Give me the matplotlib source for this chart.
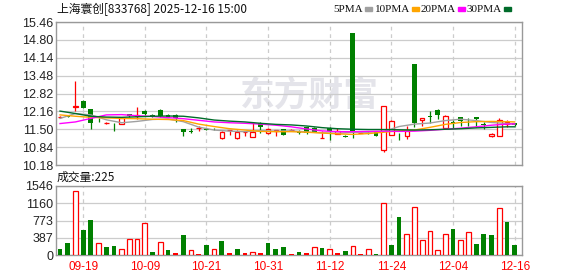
import numpy as np
import matplotlib.pyplot as plt
from matplotlib.patches import Rectangle

# ---- data ----
dates = ["09-16", "09-17", "09-18", "09-19", "09-22", "09-23", "09-24", "09-25", "09-26", "09-29", "09-30",
         "10-09", "10-10", "10-13", "10-14", "10-15", "10-16", "10-17", "10-20", "10-21", "10-22", "10-23",
         "10-24", "10-27", "10-28", "10-29", "10-30", "10-31",
         "11-03", "11-04", "11-05", "11-06", "11-07", "11-10", "11-11", "11-12", "11-13", "11-14", "11-17",
         "11-18", "11-19", "11-20", "11-21", "11-24", "11-25", "11-26", "11-27", "11-28",
         "12-01", "12-02", "12-03", "12-04", "12-05", "12-08", "12-09", "12-10", "12-11", "12-12", "12-15", "12-16"]

opens = [11.95, 12.02, 12.31, 12.56, 12.23, 11.92, 11.74, 11.71, 11.69, 12.05,
         12.00, 12.19, 12.04, 12.22, 12.03, 12.03, 11.50, 11.42, 11.53, 11.52,
         11.52, 11.16, 11.46, 11.16, 11.40, 11.21, 11.74, 11.35, 11.44, 11.50,
         11.49, 11.45, 11.58, 11.55, 11.18, 11.55, 11.34, 11.26, 15.05, 11.38,
         11.42, 11.43, 10.75, 11.29, 11.26, 11.25, 13.91, 11.83, 12.00, 12.22,
         11.55, 11.75, 11.95, 11.92, 11.96, 11.70, 11.24, 11.26, 11.70, 11.73]
highs = [11.99, 12.04, 13.28, 12.58, 12.25, 11.93, 11.78, 11.72, 11.91, 12.07,
         12.31, 12.20, 12.05, 12.23, 12.05, 12.05, 11.51, 11.53, 11.62, 11.53,
         11.53, 11.42, 11.48, 11.48, 11.42, 11.74, 11.76, 11.53, 11.47, 11.51,
         11.50, 11.46, 11.59, 11.57, 11.43, 11.58, 11.54, 11.27, 15.05, 11.40,
         11.43, 11.44, 12.36, 11.84, 11.36, 11.62, 13.91, 11.93, 12.17, 12.23,
         12.02, 11.85, 11.97, 11.93, 11.97, 11.78, 11.36, 11.90, 11.86, 11.74]
lows = [11.92, 11.95, 12.18, 12.27, 11.50, 11.77, 11.70, 11.43, 11.68, 11.97,
        11.88, 12.04, 11.96, 11.97, 11.95, 11.78, 11.25, 11.36, 11.45, 11.48,
        11.49, 11.15, 11.29, 11.15, 11.24, 11.20, 11.38, 11.34, 11.25, 11.29,
        11.48, 11.34, 11.34, 11.39, 11.16, 11.10, 11.32, 11.20, 11.17, 11.36,
        11.33, 11.25, 10.67, 11.27, 11.10, 11.14, 11.60, 11.62, 11.72, 11.87,
        11.54, 11.56, 11.62, 11.62, 11.59, 11.52, 11.22, 11.24, 11.57, 11.62]
closes = [11.95, 11.97, 12.35, 12.28, 11.72, 11.90, 11.74, 11.69, 11.90, 11.98,
          12.03, 12.05, 11.97, 11.98, 11.96, 11.92, 11.41, 11.40, 11.53, 11.49,
          11.50, 11.41, 11.47, 11.41, 11.41, 11.41, 11.59, 11.50, 11.46, 11.30,
          11.49, 11.36, 11.35, 11.40, 11.19, 11.42, 11.42, 11.22, 11.38, 11.38,
          11.39, 11.26, 12.35, 11.82, 11.24, 11.42, 11.72, 11.91, 11.97, 12.01,
          12.00, 11.72, 11.80, 11.90, 11.87, 11.64, 11.34, 11.85, 11.75, 11.64]

volumes = [134, 269, 1434, 568, 784, 261, 179, 202, 127, 358,
           358, 710, 67, 284, 112, 45, 448, 105, 22, 224,
           134, 314, 45, 134, 45, 60, 45, 269, 134, 179,
           22, 67, 45, 172, 157, 127, 45, 90, 194, 22,
           127, 22, 1158, 224, 852, 463, 1068, 336, 530, 105,
           463, 583, 336, 508, 246, 471, 448, 1046, 740, 225]
# day change vs previous close: u = up, d = down, f = flat
vol_dir = ["d", "d", "u", "d", "d", "u", "d", "d", "u", "u",
           "u", "u", "d", "u", "d", "f", "d", "u", "f", "d",
           "u", "d", "f", "d", "f", "u", "f", "d", "d", "d",
           "f", "d", "f", "u", "d", "u", "f", "d", "u", "f",
           "u", "d", "u", "d", "d", "u", "u", "u", "u", "u",
           "u", "d", "u", "u", "d", "d", "d", "u", "d", "d"]

ma_days = [0, 2, 4, 6, 8, 10, 12, 14, 16, 18, 20, 22, 24, 26, 28, 30,
           32, 34, 36, 38, 40, 42, 44, 46, 48, 50, 52, 54, 56, 58, 59]
ma5 = [11.90, 12.08, 12.03, 11.85, 11.74, 11.79, 11.86, 11.88, 11.78, 11.58, 11.47, 11.43, 11.41, 11.45, 11.43, 11.44,
       11.40, 11.37, 11.35, 11.39, 11.39, 11.42, 11.60, 11.69, 11.73, 11.82, 11.87, 11.82, 11.75, 11.71, 11.69]
ma10 = [12.03, 11.98, 11.94, 11.92, 11.90, 11.89, 11.87, 11.86, 11.82, 11.69, 11.60, 11.52, 11.47, 11.42, 11.41, 11.41,
        11.39, 11.36, 11.33, 11.31, 11.34, 11.39, 11.44, 11.47, 11.57, 11.68, 11.75, 11.78, 11.79, 11.78, 11.77]
ma20 = [11.71, 11.77, 11.90, 12.03, 12.04, 12.00, 11.97, 11.93, 11.89, 11.83, 11.77, 11.74, 11.72, 11.69, 11.65, 11.59,
        11.51, 11.44, 11.41, 11.41, 11.42, 11.43, 11.42, 11.43, 11.46, 11.50, 11.54, 11.59, 11.65, 11.69, 11.70]
ma30 = [12.17, 12.08, 11.98, 11.95, 11.94, 11.96, 11.98, 11.99, 11.98, 11.92, 11.84, 11.80, 11.77, 11.72, 11.68, 11.66,
        11.62, 11.56, 11.52, 11.50, 11.49, 11.49, 11.48, 11.47, 11.48, 11.50, 11.52, 11.55, 11.57, 11.59, 11.59]

tick_labels = ["09-19", "10-09", "10-21", "10-31", "11-12", "11-24", "12-04", "12-16"]
price_ticks = [10.18, 10.84, 11.50, 12.16, 12.82, 13.48, 14.14, 14.80, 15.46]
vol_ticks = [0, 387, 773, 1160, 1546]

title = "上海寰创[833768] 2025-12-16 15:00"

RED = "#ff0000"
GREEN = "#008000"
GRID = "#cccccc"
SPINE = "#999999"
MA_STYLE = [("5PMA", ma5, "#a0a0a0"), ("10PMA", ma10, "#ffa500"),
            ("20PMA", ma20, "#ff00ff"), ("30PMA", ma30, "#006b2a")]

plt.rcParams["font.family"] = ["Liberation Sans", "Noto Sans CJK SC", "DejaVu Sans"]

W, H = 578, 276
fig = plt.figure(figsize=(W / 100, H / 100), dpi=100)
ax = fig.add_axes([56 / W, 1 - 165 / H, 466 / W, 143 / H])
axv = fig.add_axes([56 / W, 1 - 255 / H, 466 / W, 69 / H])

x = np.arange(len(dates))
o = np.array(opens)
hi = np.array(highs)
lo = np.array(lows)
c = np.array(closes)
v = np.array(volumes)
vd = np.array(vol_dir)

up = c > o
down = c < o
flat = c == o

# --- candles ---
ax.vlines(x, lo, hi, colors=np.where(down, GREEN, RED), lw=0.9, zorder=3)
ax.bar(x[up], (c - o)[up], bottom=o[up], width=0.58, facecolor="white",
       edgecolor=RED, lw=0.9, zorder=4)
ax.bar(x[down], (o - c)[down], bottom=c[down], width=0.62, color=GREEN, lw=0, zorder=4)
ax.hlines(c[flat], x[flat] - 0.32, x[flat] + 0.32, colors=RED, lw=0.9, zorder=4)

for name, vals, col in MA_STYLE:
    ax.plot(ma_days, vals, color=col, lw=1.0, zorder=5)

# watermark
ax.text(0.543, 0.49, "东方财富", transform=ax.transAxes, ha="center", va="center",
        fontsize=25, fontweight="bold", color="#e4e4ea", family="Noto Sans CJK SC", zorder=0)

# --- volume ---
m = vd == "u"
axv.bar(x[m], v[m], width=0.6, facecolor="white", edgecolor=RED, lw=0.9, zorder=3)
m = vd == "f"
axv.bar(x[m], v[m], width=0.62, color=RED, lw=0, zorder=3)
m = vd == "d"
axv.bar(x[m], v[m], width=0.62, color=GREEN, lw=0, zorder=3)

tick_pos = [dates.index(t) for t in tick_labels]

for a in (ax, axv):
    a.set_xlim(-0.52, 59.95)
    a.set_xticks(tick_pos)
    a.xaxis.grid(True, color=GRID, ls=(0, (3, 3)), lw=0.9)
    a.yaxis.grid(True, color=GRID, lw=0.9)
    a.set_axisbelow(True)
    for s in a.spines.values():
        s.set_color(SPINE)
        s.set_linewidth(1.0)
    a.tick_params(length=0, labelsize=9, colors="#222222", pad=2)

ax.set_ylim(price_ticks[0], price_ticks[-1])
ax.set_yticks(price_ticks)
ax.set_yticklabels([f"{t:.2f}" for t in price_ticks])
ax.set_xticklabels([])

axv.set_ylim(vol_ticks[0], vol_ticks[-1])
axv.set_yticks(vol_ticks)
axv.set_yticklabels([str(t) for t in vol_ticks])
axv.set_xticklabels(tick_labels, color=RED, fontsize=8.5)
axv.tick_params(axis="x", pad=4)

# --- header texts ---
fig.text(57 / W, 1 - 9 / H, title, va="center", ha="left", fontsize=8.5,
         family=["Noto Sans CJK SC", "DejaVu Sans"], color="#111111")
fig.text(57 / W, 1 - 177 / H, f"成交量:{volumes[-1]}", va="center", ha="left", fontsize=8.5,
         family=["Noto Sans CJK SC", "DejaVu Sans"], color="#111111")

# MA legend: label ends just before its colour swatch
leg_end = [363, 410, 456, 502]
for (name, vals, col), ex in zip(MA_STYLE, leg_end):
    fig.text(ex / W, 1 - 9 / H, name, va="center", ha="right", fontsize=8,
             family="Liberation Serif", color="#111111")
    fig.patches.append(Rectangle(((ex + 2) / W, 1 - 10.5 / H), 7 / W, 3.5 / H,
                                 transform=fig.transFigure, color=col))

fig.savefig("out.png", dpi=100)
